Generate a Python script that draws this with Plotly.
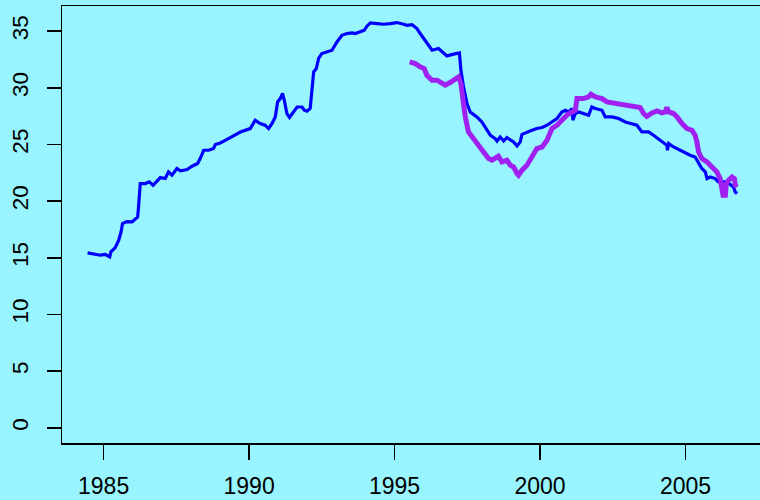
import plotly.graph_objects as go

# Blue series (long history)
blue_x = [1984.45, 1984.66, 1984.89, 1985.06, 1985.21, 1985.25, 1985.40, 1985.52, 1985.60, 1985.65,
          1985.80, 1985.98, 1986.09, 1986.17, 1986.20, 1986.24, 1986.26, 1986.43, 1986.57, 1986.70,
          1986.81, 1986.95, 1987.12, 1987.23, 1987.35, 1987.52, 1987.64, 1987.87, 1988.04, 1988.23,
          1988.32, 1988.44, 1988.61, 1988.78, 1988.84, 1989.01, 1989.18, 1989.70, 1990.04, 1990.21,
          1990.38, 1990.55, 1990.67, 1990.79, 1990.90, 1990.98, 1991.07, 1991.15, 1991.21, 1991.30,
          1991.39, 1991.51, 1991.65, 1991.82, 1991.90, 1991.99, 1992.10, 1992.16, 1992.22, 1992.31,
          1992.39, 1992.50, 1992.68, 1992.85, 1993.02, 1993.19, 1993.36, 1993.54, 1993.65, 1993.82,
          1993.96, 1994.05, 1994.17, 1994.40, 1994.62, 1994.85, 1995.08, 1995.31, 1995.43, 1995.60,
          1995.77, 1995.88, 1996.05, 1996.29, 1996.51, 1996.63, 1996.80, 1997.03, 1997.23, 1997.28,
          1997.37, 1997.49, 1997.60, 1997.83, 1998.00, 1998.18, 1998.29, 1998.46, 1998.52, 1998.63,
          1998.75, 1998.86, 1998.98, 1999.09, 1999.21, 1999.32, 1999.38, 1999.55, 1999.72, 1999.89,
          2000.07, 2000.24, 2000.41, 2000.58, 2000.75, 2000.87, 2000.98, 2001.10, 2001.13, 2001.21,
          2001.33, 2001.49, 2001.67, 2001.78, 2001.90, 2002.13, 2002.24, 2002.47, 2002.70, 2002.93,
          2003.10, 2003.33, 2003.50, 2003.73, 2003.90, 2004.07, 2004.19, 2004.36, 2004.38, 2004.42,
          2004.59, 2004.82, 2004.99, 2005.16, 2005.33, 2005.45, 2005.56, 2005.68, 2005.74, 2005.85,
          2006.02, 2006.13, 2006.42, 2006.65, 2006.71, 2006.77]
blue_y = [15.43, 15.31, 15.23, 15.29, 15.08, 15.52, 15.90, 16.55, 17.28, 18.02,
          18.20, 18.17, 18.46, 18.60, 19.49, 21.40, 21.55, 21.55, 21.70, 21.40,
          21.70, 22.08, 22.00, 22.58, 22.29, 22.88, 22.67, 22.79, 23.08, 23.32,
          23.76, 24.49, 24.49, 24.64, 25.00, 25.14, 25.37, 26.10, 26.40, 27.14,
          26.85, 26.70, 26.40, 26.85, 27.43, 28.75, 29.05, 29.50, 28.90, 27.73,
          27.38, 27.87, 28.31, 28.31, 28.02, 27.93, 28.17, 29.79, 31.40, 31.70,
          32.59, 33.03, 33.17, 33.32, 34.05, 34.64, 34.79, 34.85, 34.79, 34.94,
          35.08, 35.44, 35.73, 35.67, 35.61, 35.67, 35.76, 35.61, 35.52, 35.58,
          35.23, 34.79, 34.20, 33.32, 33.47, 33.17, 32.82, 32.97, 33.08, 31.55,
          30.08, 28.61, 27.87, 27.43, 26.99, 26.26, 25.82, 25.52, 25.31, 25.67,
          25.31, 25.61, 25.37, 25.23, 24.87, 25.23, 25.90, 26.11, 26.26, 26.41,
          26.50, 26.70, 26.99, 27.29, 27.87, 28.02, 27.87, 28.17, 27.14, 27.73,
          27.87, 27.73, 27.58, 28.31, 28.17, 28.02, 27.43, 27.43, 27.29, 26.99,
          26.85, 26.70, 26.11, 26.11, 25.82, 25.52, 25.23, 24.93, 24.49, 25.08,
          24.78, 24.49, 24.25, 24.05, 23.90, 23.32, 22.88, 22.58, 21.99, 22.14,
          21.99, 21.70, 21.70, 21.25, 20.81, 20.67]

# Purple series (shorter history)
purple_x = [1995.52, 1995.71, 1995.88, 1996.02, 1996.11, 1996.29, 1996.46, 1996.57, 1996.74, 1996.91,
            1997.08, 1997.20, 1997.28, 1997.35, 1997.43, 1997.54, 1997.71, 1997.89, 1998.06, 1998.23,
            1998.35, 1998.46, 1998.57, 1998.69, 1998.86, 1998.98, 1999.09, 1999.21, 1999.26, 1999.38,
            1999.55, 1999.72, 1999.89, 2000.07, 2000.24, 2000.41, 2000.58, 2000.75, 2000.92, 2001.10,
            2001.21, 2001.27, 2001.49, 2001.67, 2001.75, 2001.90, 2002.13, 2002.30, 2002.53, 2002.76,
            2002.99, 2003.21, 2003.44, 2003.56, 2003.67, 2003.85, 2004.02, 2004.19, 2004.30, 2004.36,
            2004.42, 2004.59, 2004.71, 2004.88, 2005.05, 2005.22, 2005.33, 2005.39, 2005.45, 2005.56,
            2005.74, 2005.91, 2006.08, 2006.19, 2006.25, 2006.29, 2006.37, 2006.40, 2006.48, 2006.60,
            2006.68, 2006.71, 2006.77]
purple_y = [32.29, 32.14, 31.85, 31.70, 31.11, 30.67, 30.67, 30.52, 30.23, 30.47,
            30.73, 30.96, 30.38, 28.90, 27.43, 26.11, 25.52, 24.93, 24.49, 23.76,
            23.61, 23.76, 23.96, 23.46, 23.61, 23.17, 23.02, 22.44, 22.29, 22.73,
            23.17, 23.90, 24.64, 24.78, 25.37, 26.41, 26.70, 27.14, 27.58, 27.87,
            28.02, 29.05, 29.05, 29.20, 29.43, 29.20, 29.05, 28.76, 28.67, 28.55,
            28.46, 28.31, 28.26, 27.73, 27.49, 27.79, 27.96, 27.79, 27.87, 28.26,
            27.87, 27.73, 27.43, 26.85, 26.41, 26.26, 25.82, 25.23, 24.34, 23.76,
            23.46, 23.02, 22.58, 21.99, 21.25, 20.52, 20.52, 21.55, 21.85, 22.14,
            21.99, 21.40, 21.25]

x_ticks = [1985, 1990, 1995, 2000, 2005]
y_ticks = [0, 5, 10, 15, 20, 25, 30, 35]

bg = "#98F5FF"
font_family = "Liberation Sans, Arial, Helvetica, sans-serif"

fig = go.Figure()
fig.add_trace(go.Scatter(x=blue_x, y=blue_y, mode="lines",
                         line=dict(color="#0000FF", width=3.2), showlegend=False,
                         hoverinfo="skip"))
fig.add_trace(go.Scatter(x=purple_x, y=purple_y, mode="lines",
                         line=dict(color="#A020F0", width=5), showlegend=False,
                         hoverinfo="skip"))

fig.update_layout(
    width=760, height=500,
    margin=dict(l=62, r=0, t=6, b=57, autoexpand=False),
    paper_bgcolor=bg, plot_bgcolor=bg,
    font=dict(family=font_family, size=22, color="black"),
    hovermode=False,
    xaxis=dict(range=[1983.57, 2007.56], tickvals=x_ticks, ticktext=[str(v) for v in x_ticks],
               showgrid=False, zeroline=False, showline=True, linecolor="black", linewidth=1.5,
               mirror=True, ticks="outside", ticklen=15, tickwidth=1.5, tickcolor="black",
               ticklabelstandoff=7, tickfont=dict(size=23), automargin=False),
    yaxis=dict(range=[-1.34, 37.22], tickvals=y_ticks, ticktext=[str(v) for v in y_ticks],
               showgrid=False, zeroline=False, showline=True, linecolor="black", linewidth=1.5,
               ticks="outside", ticklen=14, tickwidth=1.5, tickcolor="black",
               tickangle=-90, ticklabelstandoff=10, tickfont=dict(size=22.5), automargin=False),
)

fig.write_html("out.html",
               config={"displayModeBar": False, "staticPlot": True},
               post_script="document.body.style.margin='0';document.body.style.overflow='hidden';")
